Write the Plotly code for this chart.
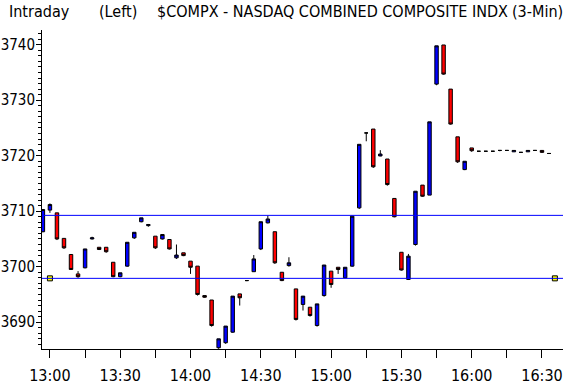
import plotly.graph_objects as go
from datetime import datetime, timedelta

# ---- data ----
start_time = "12:57"
bar_minutes = 3
opens = [3706.3, 3710.2, 3709.7, 3705.1, 3702.2, 3698.7, 3699.8, 3705.0, 3703.5, 3703.5,
         3700.8, 3698.2, 3700.1, 3705.2, 3708.1, 3707.4, 3705.5, 3705.0, 3704.9, 3701.6,
         3702.5, 3701.0, 3700.1, 3694.8, 3694.0, 3685.4, 3686.3, 3688.2, 3695.1, 3697.5,
         3699.1, 3703.2, 3707.9, 3706.3, 3699.0, 3700.2, 3696.0, 3693.2, 3692.7, 3689.4,
         3694.8, 3699.2, 3699.9, 3698.0, 3700.1, 3710.6, 3724.1, 3724.8, 3719.95, 3719.4,
         3712.3, 3702.6, 3697.7, 3704.0, 3714.7, 3712.9, 3732.9, 3739.95, 3732.0, 3723.4,
         3717.5, 3721.4, 3720.8, 3720.8, 3720.8, 3720.95, 3720.95, 3720.7, 3720.6, 3720.7,
         3720.95, 3720.95, 3720.4]
highs = [3710.3, 3711.4, 3709.7, 3705.1, 3702.2, 3699.2, 3703.2, 3705.4, 3703.5, 3703.5,
         3700.8, 3698.9, 3704.4, 3706.2, 3708.8, 3707.7, 3705.5, 3705.8, 3704.9, 3704.0,
         3702.5, 3701.0, 3700.1, 3694.8, 3694.0, 3687.0, 3689.3, 3694.7, 3695.1, 3697.5,
         3702.1, 3708.1, 3709.2, 3706.3, 3699.0, 3701.7, 3696.0, 3694.7, 3692.7, 3693.3,
         3700.3, 3699.2, 3699.9, 3699.9, 3709.1, 3722.05, 3724.2, 3724.8, 3721.0, 3719.4,
         3712.3, 3702.6, 3702.3, 3713.6, 3714.7, 3726.1, 3739.8, 3739.95, 3732.0, 3723.4,
         3719.0, 3721.4, 3720.8, 3720.8, 3720.8, 3720.95, 3720.95, 3720.95, 3720.6, 3720.95,
         3720.95, 3720.95, 3720.4]
lows = [3706.2, 3709.7, 3704.8, 3703.2, 3699.4, 3698.0, 3699.7, 3704.9, 3703.0, 3702.5,
        3698.1, 3698.1, 3700.0, 3705.0, 3708.0, 3707.2, 3703.2, 3704.9, 3703.1, 3701.4,
        3701.9, 3698.7, 3694.8, 3694.4, 3689.2, 3685.2, 3686.1, 3688.1, 3693.0, 3697.4,
        3699.1, 3703.0, 3707.8, 3700.5, 3697.4, 3700.0, 3690.3, 3692.1, 3691.0, 3689.2,
        3694.6, 3696.2, 3698.7, 3698.0, 3700.0, 3710.4, 3722.6, 3717.8, 3719.9, 3714.6,
        3708.9, 3699.3, 3697.6, 3703.8, 3712.6, 3712.9, 3732.7, 3734.6, 3725.6, 3718.7,
        3717.4, 3720.7, 3720.8, 3720.8, 3720.8, 3720.8, 3720.95, 3720.7, 3720.6, 3720.7,
        3720.95, 3720.5, 3720.4]
closes = [3710.3, 3711.2, 3705.0, 3703.4, 3699.5, 3698.2, 3703.2, 3705.2, 3703.1, 3702.7,
          3698.2, 3698.9, 3704.4, 3706.2, 3708.8, 3707.6, 3703.4, 3705.8, 3703.2, 3702.1,
          3702.0, 3699.9, 3695.0, 3694.5, 3689.4, 3687.0, 3689.3, 3694.7, 3694.4, 3697.5,
          3701.4, 3708.1, 3708.6, 3700.7, 3697.5, 3700.7, 3690.5, 3694.7, 3691.2, 3693.3,
          3700.3, 3696.8, 3699.5, 3699.9, 3709.1, 3722.05, 3724.1, 3718.0, 3720.3, 3714.8,
          3709.0, 3699.4, 3701.9, 3713.6, 3712.7, 3726.1, 3739.8, 3734.7, 3725.7, 3718.9,
          3719.0, 3720.9, 3720.8, 3720.8, 3720.8, 3720.95, 3720.95, 3720.95, 3720.6, 3720.95,
          3720.95, 3720.6, 3720.4]
ref_lines = [3709.25, 3697.9]
prev_close = 3697.9
prev_close_times = ["13:00", "16:35:30"]
tick_labels = ["13:00", "13:30", "14:00", "14:30", "15:00", "15:30", "16:00", "16:30"]
y_ticks = [3690, 3700, 3710, 3720, 3730, 3740]
title_texts = ["Intraday", "(Left)", "$COMPX - NASDAQ COMBINED COMPOSITE INDX", "(3-Min)"]

day = "2013-01-02 "
t0 = datetime.fromisoformat(day + start_time)
times = [t0 + timedelta(minutes=bar_minutes * i) for i in range(len(opens))]

FONT = "DejaVu Sans Condensed, Liberation Sans Narrow, Roboto Condensed, sans-serif"

W, H = 563, 384
ML, MR, MT, MB = 42, 0, 30, 35
PW, PH = W - ML - MR, H - MT - MB

fig = go.Figure()
fig.add_trace(go.Candlestick(
    x=times, open=opens, high=highs, low=lows, close=closes,
    increasing=dict(fillcolor="#0000ff", line=dict(color="black", width=1)),
    decreasing=dict(fillcolor="#ff0000", line=dict(color="black", width=1)),
    whiskerwidth=0, showlegend=False, hoverinfo="skip"))

for v in ref_lines:
    fig.add_hline(y=v, line=dict(color="#0000ff", width=1))

fig.add_trace(go.Scatter(
    x=[datetime.fromisoformat(day + t) for t in prev_close_times],
    y=[prev_close] * len(prev_close_times), mode="markers",
    marker=dict(symbol="square", size=5, color="#ffff00", line=dict(color="black", width=1)),
    showlegend=False, hoverinfo="skip", cliponaxis=False))

tickvals = [datetime.fromisoformat(day + t) for t in tick_labels]

fig.update_layout(
    width=W, height=H,
    margin=dict(l=ML, r=MR, t=MT, b=MB, autoexpand=False),
    paper_bgcolor="white", plot_bgcolor="white",
    font=dict(family=FONT, size=16, color="black"),
    xaxis=dict(
        automargin=False,
        rangeslider=dict(visible=False),
        range=[datetime.fromisoformat(day + "12:56:37"), datetime.fromisoformat(day + "16:38:58")],
        tickvals=tickvals, ticktext=tick_labels,
        showgrid=False, zeroline=False,
        showline=True, linecolor="black", linewidth=1,
        ticks="outside", ticklen=8, tickcolor="black", tickwidth=1,
        minor=dict(dtick=15 * 60 * 1000, ticks="outside", ticklen=8, tickcolor="black", showgrid=False),
        tickfont=dict(family=FONT, size=16),
        ticklabelstandoff=4,
    ),
    yaxis=dict(
        automargin=False,
        range=[3685.17, 3742.65],
        tickvals=y_ticks,
        showgrid=False, zeroline=False,
        showline=True, linecolor="black", linewidth=1,
        ticks="outside", ticklen=5, tickcolor="black", tickwidth=1,
        minor=dict(dtick=1, ticks="outside", ticklen=3, tickcolor="black", showgrid=False),
        tickfont=dict(family=FONT, size=15),
        ticklabelstandoff=-2,
    ),
)

title_x_px = [7, 97, 155, 510]
for txt, xp in zip(title_texts, title_x_px):
    fig.add_annotation(text=txt, x=(xp - ML) / PW, y=(H - MB - 11) / PH,
                       xref="paper", yref="paper",
                       xanchor="left", yanchor="middle", showarrow=False,
                       font=dict(family=FONT, size=16, color="black"))

fig.write_html("out.html", config={"displayModeBar": False, "staticPlot": True},
               post_script="document.body.style.margin='0';document.body.style.overflow='hidden';")
